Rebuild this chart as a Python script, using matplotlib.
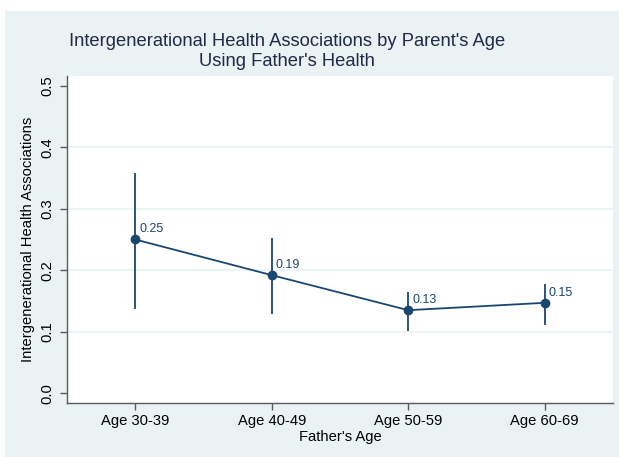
import matplotlib
matplotlib.use("Agg")
import matplotlib.pyplot as plt
from matplotlib.patches import Rectangle

categories = ["Age 30-39", "Age 40-49", "Age 50-59", "Age 60-69"]
estimates = [0.25, 0.192, 0.135, 0.147]
ci_low = [0.137, 0.129, 0.101, 0.111]
ci_high = [0.359, 0.253, 0.164, 0.178]
point_labels = ["0.25", "0.19", "0.13", "0.15"]
yticks = [0.0, 0.1, 0.2, 0.3, 0.4, 0.5]
ytick_labels = ["0.0", "0.1", "0.2", "0.3", "0.4", "0.5"]

NAVY = "#1a476f"
BG = "#eaf2f3"
plt.rcParams["font.family"] = ["Liberation Sans", "DejaVu Sans"]

W, H = 619, 457
fig = plt.figure(figsize=(W / 100, H / 100), dpi=100, facecolor="white")
bg = Rectangle((5 / W, 0), 1 - 5 / W, (H - 11) / H, transform=fig.transFigure,
               facecolor=BG, edgecolor="none", zorder=-5)
fig.add_artist(bg)

ax = fig.add_axes([67 / W, (H - 403) / H, (613 - 67) / W, (403 - 76) / H])
ax.set_zorder(1)
ax.set_facecolor("white")
x = list(range(1, len(categories) + 1))

for yt in yticks[1:-1]:
    ax.axhline(yt, color=BG, lw=1.2, zorder=1)

ax.vlines(x, ci_low, ci_high, color=NAVY, lw=1.3, zorder=2)
ax.plot(x, estimates, color=NAVY, lw=1.3, marker="o", ms=6, zorder=3)
for xi, yi, lab in zip(x, estimates, point_labels):
    ax.annotate(lab, (xi, yi), xytext=(3, 3), textcoords="offset points",
                color=NAVY, fontsize=9, ha="left", va="bottom")

ax.set_xlim(0.5, 4.5)
ax.set_ylim(-0.016, 0.516)
ax.set_xticks(x)
ax.set_xticklabels(categories, fontsize=10.6)
ax.set_yticks(yticks)
ax.set_yticklabels(ytick_labels, fontsize=10.6, rotation=90, va="center")
for s in ["top", "right"]:
    ax.spines[s].set_visible(False)
for s in ["left", "bottom"]:
    ax.spines[s].set_color("#5a5a5a")
    ax.spines[s].set_linewidth(1.0)
ax.tick_params(axis="both", color="#5a5a5a", length=5, width=1.0, pad=3)
ax.tick_params(axis="y", pad=4)
ax.set_xlabel("Father's Age", fontsize=10.6, labelpad=1.5)
ax.set_ylabel("Intergenerational Health Associations", fontsize=10.6, labelpad=4)

fig.text(287 / W, 1 - 42 / H, "Intergenerational Health Associations by Parent's Age",
         ha="center", va="center", fontsize=13.2, color="#1e2b4a")
fig.text(287 / W, 1 - 61 / H, "Using Father's Health",
         ha="center", va="center", fontsize=13.2, color="#1e2b4a")

fig.savefig("out.png", dpi=100, facecolor="white")
